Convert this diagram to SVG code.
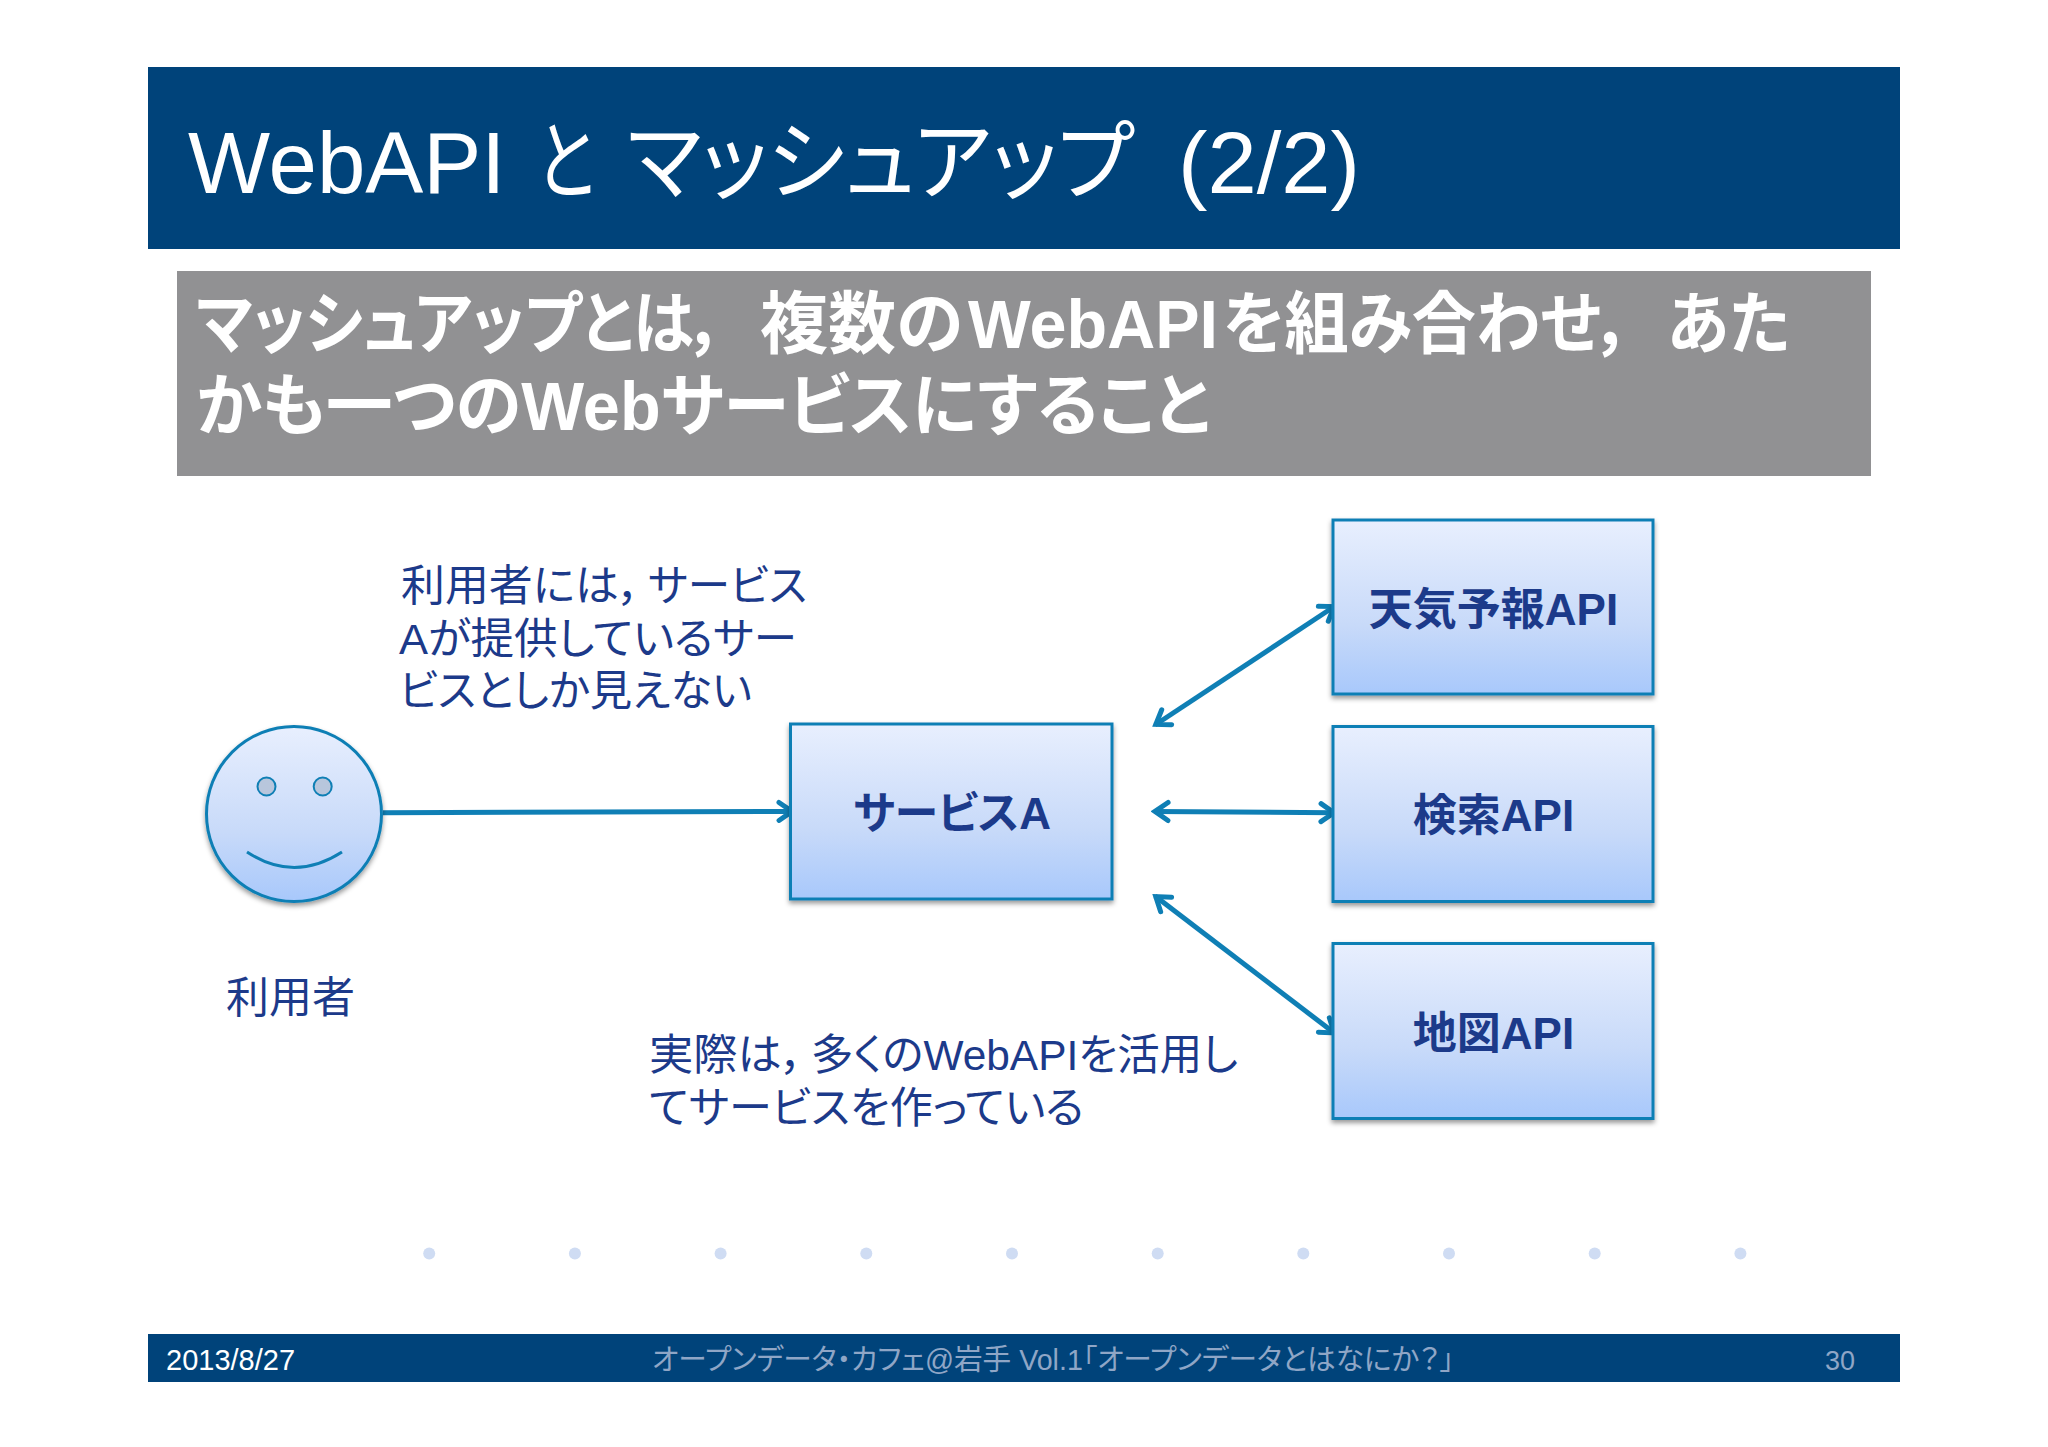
<svg xmlns="http://www.w3.org/2000/svg" width="2048" height="1447" viewBox="0 0 2048 1447">
<style>
text{font-family:"Liberation Sans","Noto Sans CJK JP",sans-serif;font-feature-settings:"palt";}
.body{font-size:43px;fill:#1c3a8a}
.lab{font-size:44px;font-weight:bold;fill:#1c3a8a;text-anchor:middle}
.sub{font-size:68px;font-weight:bold;fill:#fff}
.ttl{font-size:87px;fill:#fff}
.ft{font-size:29px;fill:#8fa6c6}
.box{fill:url(#g);stroke:#0f7fb5;stroke-width:3;filter:url(#s)}
.c{stroke:#0f7fb5;stroke-width:5;fill:none;marker-start:url(#h);marker-end:url(#h)}
.dot{fill:#cfdcf3}
</style>
<defs>
<linearGradient id="g" x1="0" y1="0" x2="0" y2="1"><stop offset="0" stop-color="#e8effe"/><stop offset="0.6" stop-color="#c8daf9"/><stop offset="1" stop-color="#a8c8fb"/></linearGradient>
<filter id="s" x="-10%" y="-10%" width="120%" height="120%"><feDropShadow dx="0" dy="3" stdDeviation="2.5" flood-color="#000" flood-opacity="0.4"/></filter>
<marker id="h" viewBox="0 0 24 24" refX="21" refY="12" markerUnits="userSpaceOnUse" markerWidth="24" markerHeight="24" orient="auto-start-reverse"><path d="M7 3L20 12L7 21" fill="none" stroke="#0f7fb5" stroke-width="5" stroke-linecap="round"/></marker>
</defs>
<rect width="2048" height="1447" fill="#fff"/>
<g id="header"><rect x="148" y="67" width="1752" height="182" fill="#00437a"/>
<text class="ttl" x="188" y="193">WebAPI</text>
<text class="ttl" x="536" y="193" textLength="59" lengthAdjust="spacingAndGlyphs">と</text>
<text class="ttl" x="627" y="193" textLength="507" lengthAdjust="spacingAndGlyphs">マッシュアップ</text>
<text class="ttl" x="1178" y="193" textLength="182" lengthAdjust="spacingAndGlyphs">(2/2)</text></g>
<g id="subtitle"><rect x="177" y="271" width="1694" height="205" fill="#919193"/>
<text class="sub" x="196" y="348" textLength="529" lengthAdjust="spacingAndGlyphs">マッシュアップとは，</text>
<text class="sub" x="760" y="348" textLength="203" lengthAdjust="spacingAndGlyphs">複数の</text>
<text class="sub" x="968" y="348" textLength="250" lengthAdjust="spacingAndGlyphs">WebAPI</text>
<text class="sub" x="1223" y="348" textLength="410" lengthAdjust="spacingAndGlyphs">を組み合わせ，</text>
<text class="sub" x="1667" y="348" textLength="123" lengthAdjust="spacingAndGlyphs">あた</text>
<text class="sub" x="196" y="430" textLength="1014" lengthAdjust="spacingAndGlyphs">かも一つのWebサービスにすること</text></g>
<g id="connectors">
<path d="M383 812.700L793 811.400" style="stroke:#0f7fb5;stroke-width:5;fill:none;marker-end:url(#h)"/>
<path class="c" d="M1155 725L1335 606"/>
<path class="c" d="M1154 811.400L1335 812.700"/>
<path class="c" d="M1155 896L1335 1033.500"/>
</g>
<g id="user"><circle cx="294" cy="814" r="87.500" class="box"/>
<circle cx="266.500" cy="786.500" r="9" fill="#b8c6dc" stroke="#0f7fb5" stroke-width="2"/>
<circle cx="322.700" cy="786.500" r="9" fill="#b8c6dc" stroke="#0f7fb5" stroke-width="2"/>
<path d="M247 852Q294 883 342 852" fill="none" stroke="#0f7fb5" stroke-width="3"/>
<text class="body" x="226" y="1013">利用者</text></g>
<g id="service"><rect class="box" x="790.500" y="724" width="321.500" height="175"/><text class="lab" x="952" y="829">サービスA</text></g>
<g id="weather"><rect class="box" x="1333" y="520" width="320" height="174"/><text class="lab" x="1493.500" y="625">天気予報API</text></g>
<g id="search"><rect class="box" x="1333" y="726.500" width="320" height="175"/><text class="lab" x="1493.500" y="831">検索API</text></g>
<g id="map"><rect class="box" x="1333" y="943.500" width="320" height="175"/><text class="lab" x="1493.500" y="1049">地図API</text></g>
<g id="note1"><text class="body" x="401" y="601" textLength="240" lengthAdjust="spacingAndGlyphs">利用者には，</text><text class="body" x="648" y="601" textLength="159" lengthAdjust="spacingAndGlyphs">サービス</text><text class="body" x="399" y="654" textLength="398" lengthAdjust="spacingAndGlyphs">Aが提供しているサー</text><text class="body" x="399" y="706" textLength="353" lengthAdjust="spacingAndGlyphs">ビスとしか見えない</text></g>
<g id="note2"><text class="body" x="649" y="1070" textLength="155" lengthAdjust="spacingAndGlyphs">実際は，</text><text class="body" x="811" y="1070" textLength="427" lengthAdjust="spacingAndGlyphs">多くのWebAPIを活用し</text><text class="body" x="649" y="1123" textLength="435" lengthAdjust="spacingAndGlyphs">てサービスを作っている</text></g>
<g id="dots"><circle class="dot" cx="429.200" cy="1253.500" r="6"/><circle class="dot" cx="574.900" cy="1253.500" r="6"/><circle class="dot" cx="720.600" cy="1253.500" r="6"/><circle class="dot" cx="866.300" cy="1253.500" r="6"/><circle class="dot" cx="1012" cy="1253.500" r="6"/><circle class="dot" cx="1157.700" cy="1253.500" r="6"/><circle class="dot" cx="1303.300" cy="1253.500" r="6"/><circle class="dot" cx="1449" cy="1253.500" r="6"/><circle class="dot" cx="1594.700" cy="1253.500" r="6"/><circle class="dot" cx="1740.400" cy="1253.500" r="6"/></g>
<g id="footer"><rect x="148" y="1334" width="1752" height="48" fill="#00437a"/>
<text x="166" y="1370" font-size="29" fill="#fff">2013/8/27</text>
<text class="ft" x="652" y="1370" textLength="802" lengthAdjust="spacingAndGlyphs">オープンデータ・カフェ@岩手 Vol.1「オープンデータとはなにか？」</text>
<text class="ft" x="1825" y="1370" style="font-size:27px">30</text></g>
</svg>
